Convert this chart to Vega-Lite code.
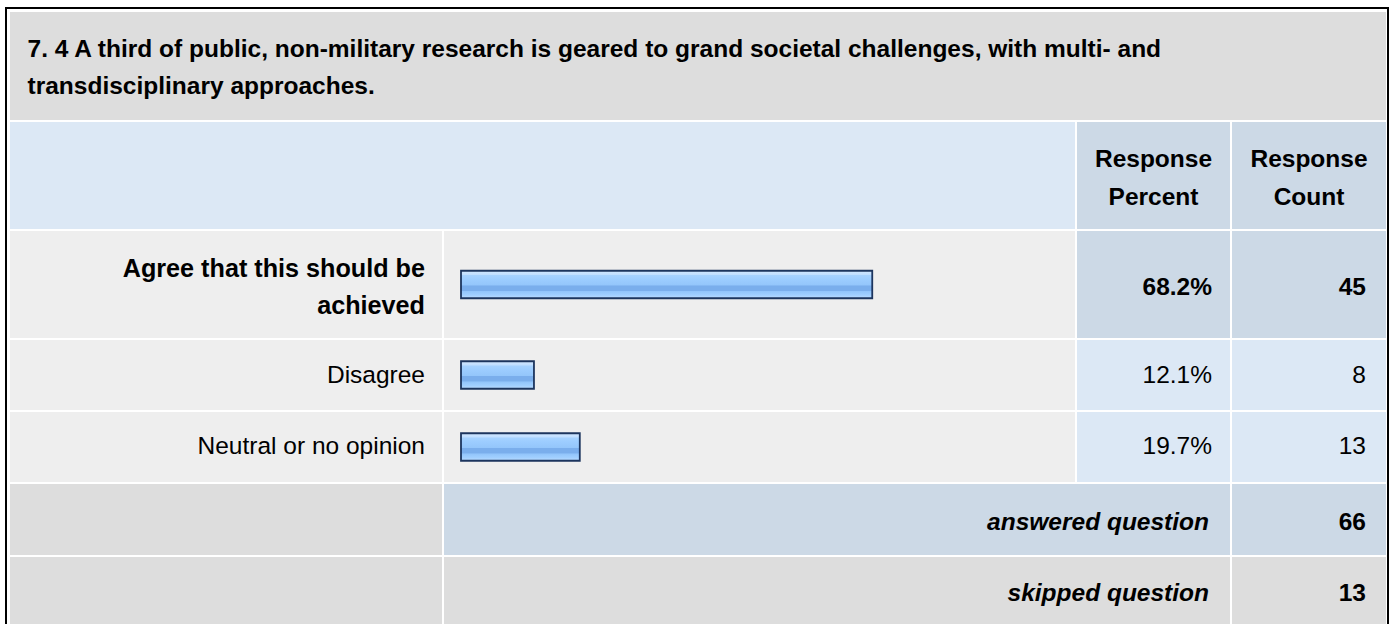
{
  "$schema": "https://vega.github.io/schema/vega-lite/v6.json",
  "background": "white",
  "padding": {"left": 5, "top": 7, "right": 5, "bottom": 0},
  "config": {
    "view": {"stroke": null},
    "text": {"font": "Liberation Sans", "fontSize": 24.5, "color": "#000000", "baseline": "middle"}
  },
  "datasets": {
    "question": [
      {"question": "7. 4 A third of public, non-military research is geared to grand societal challenges, with multi- and transdisciplinary approaches."}
    ],
    "columns": [
      {"key": "percent", "title": "Response Percent"},
      {"key": "count", "title": "Response Count"}
    ],
    "responses": [
      {"answer": "Agree that this should be achieved", "percent": 0.682, "count": 45},
      {"answer": "Disagree", "percent": 0.121, "count": 8},
      {"answer": "Neutral or no opinion", "percent": 0.197, "count": 13}
    ],
    "summary": [
      {"status": "answered question", "count": 66},
      {"status": "skipped question", "count": 13}
    ]
  },
  "data": {"name": "question"},
  "spacing": 0,
  "vconcat": [
    {"width": 1384, "height": 2, "view": {"fill": "#000000"}, "mark": {"type": "rect", "opacity": 0}, "encoding": {}},
    {
      "spacing": 0,
      "hconcat": [
        {"width": 2, "height": 615, "view": {"fill": "#000000"}, "mark": {"type": "rect", "opacity": 0}, "encoding": {}},
        {"width": 3, "height": 615, "mark": {"type": "rect", "opacity": 0}, "encoding": {}},
        {
          "spacing": 2,
          "vconcat": [
            {"width": 1376, "height": 1, "mark": {"type": "rect", "opacity": 0}, "encoding": {}},
            {
              "width": 1376, "height": 108, "view": {"fill": "#dddddd"},
              "data": {"name": "question"},
              "mark": {"type": "text", "align": "left", "fontWeight": "bold", "fontSize": 24.5, "lineHeight": 37, "dx": 17.5, "dy": -16, "lineBreak": {"expr": "regexp(' (?=transdisciplinary)')"}},
              "encoding": {"x": {"value": 0}, "text": {"field": "question"}}
            },
            {
              "bounds": "flush",
              "spacing": 2,
              "hconcat": [
                {"width": 1065, "height": 107, "view": {"fill": "#dce8f5"}, "mark": {"type": "rect", "opacity": 0}, "encoding": {}},
                {
                  "width": 153, "height": 107, "view": {"fill": "#ccd9e6"},
                  "data": {"name": "columns"},
                  "transform": [{"filter": {"field": "key", "equal": "percent"}}],
                  "mark": {"type": "text", "align": "center", "fontWeight": "bold", "lineHeight": 38, "dy": -16, "lineBreak": " "},
                  "encoding": {"text": {"field": "title"}}
                },
                {
                  "width": 154, "height": 107, "view": {"fill": "#ccd9e6"},
                  "data": {"name": "columns"},
                  "transform": [{"filter": {"field": "key", "equal": "count"}}],
                  "mark": {"type": "text", "align": "center", "fontWeight": "bold", "lineHeight": 38, "dy": -16, "lineBreak": " "},
                  "encoding": {"text": {"field": "title"}}
                }
              ]
            },
            {
              "bounds": "flush",
              "spacing": 2,
              "hconcat": [
                {
                  "width": 432, "height": 107, "view": {"fill": "#eeeeee"},
                  "data": {"name": "responses"},
                  "transform": [{"filter": {"field": "answer", "equal": "Agree that this should be achieved"}}],
                  "mark": {"type": "text", "align": "right", "fontWeight": "bold", "fontSize": 25.2, "lineHeight": 37, "dx": -17, "dy": -15.5, "lineBreak": {"expr": "regexp(' (?=achieved)')"}},
                  "encoding": {"x": {"value": "width"}, "text": {"field": "answer"}}
                },
                {
                  "width": 631, "height": 107, "view": {"fill": "#eeeeee"},
                  "data": {"name": "responses"},
                  "transform": [{"filter": {"field": "answer", "equal": "Agree that this should be achieved"}}],
                  "mark": {
                    "type": "bar", "height": 27.5, "stroke": "#1c355e", "strokeWidth": 1.8,
                    "fill": {"gradient": "linear", "x1": 0, "y1": 0, "x2": 0, "y2": 1, "stops": [
                      {"offset": 0, "color": "#d2e8ff"},
                      {"offset": 0.14, "color": "#c0deff"},
                      {"offset": 0.17, "color": "#a6d2ff"},
                      {"offset": 0.3, "color": "#9dcdff"},
                      {"offset": 0.52, "color": "#94c6fb"},
                      {"offset": 0.55, "color": "#7aaeec"},
                      {"offset": 0.72, "color": "#7aaeec"},
                      {"offset": 0.75, "color": "#92c5fb"},
                      {"offset": 0.88, "color": "#a0cfff"},
                      {"offset": 1, "color": "#bcdcff"}
                    ]}
                  },
                  "encoding": {"x": {"field": "percent", "type": "quantitative", "scale": {"domain": [0, 1], "range": [17, 620]}, "axis": null}}
                },
                {
                  "width": 153, "height": 107, "view": {"fill": "#ccd9e6"},
                  "data": {"name": "responses"},
                  "transform": [{"filter": {"field": "answer", "equal": "Agree that this should be achieved"}}],
                  "mark": {"type": "text", "align": "right", "fontWeight": "bold", "dx": -18, "dy": 3.5},
                  "encoding": {"x": {"value": "width"}, "text": {"field": "percent", "type": "quantitative", "format": ".1%"}}
                },
                {
                  "width": 154, "height": 107, "view": {"fill": "#ccd9e6"},
                  "data": {"name": "responses"},
                  "transform": [{"filter": {"field": "answer", "equal": "Agree that this should be achieved"}}],
                  "mark": {"type": "text", "align": "right", "fontWeight": "bold", "dx": -20, "dy": 3.5},
                  "encoding": {"x": {"value": "width"}, "text": {"field": "count", "type": "quantitative"}}
                }
              ]
            },
            {
              "bounds": "flush",
              "spacing": 2,
              "hconcat": [
                {
                  "width": 432, "height": 70, "view": {"fill": "#eeeeee"},
                  "data": {"name": "responses"},
                  "transform": [{"filter": {"field": "answer", "equal": "Disagree"}}],
                  "mark": {"type": "text", "align": "right", "dx": -17, "dy": 1},
                  "encoding": {"x": {"value": "width"}, "text": {"field": "answer"}}
                },
                {
                  "width": 631, "height": 70, "view": {"fill": "#eeeeee"},
                  "data": {"name": "responses"},
                  "transform": [{"filter": {"field": "answer", "equal": "Disagree"}}],
                  "mark": {
                    "type": "bar", "height": 27.5, "stroke": "#1c355e", "strokeWidth": 1.8,
                    "fill": {"gradient": "linear", "x1": 0, "y1": 0, "x2": 0, "y2": 1, "stops": [
                      {"offset": 0, "color": "#d2e8ff"},
                      {"offset": 0.14, "color": "#c0deff"},
                      {"offset": 0.17, "color": "#a6d2ff"},
                      {"offset": 0.3, "color": "#9dcdff"},
                      {"offset": 0.52, "color": "#94c6fb"},
                      {"offset": 0.55, "color": "#7aaeec"},
                      {"offset": 0.72, "color": "#7aaeec"},
                      {"offset": 0.75, "color": "#92c5fb"},
                      {"offset": 0.88, "color": "#a0cfff"},
                      {"offset": 1, "color": "#bcdcff"}
                    ]}
                  },
                  "encoding": {"x": {"field": "percent", "type": "quantitative", "scale": {"domain": [0, 1], "range": [17, 620]}, "axis": null}}
                },
                {
                  "width": 153, "height": 70, "view": {"fill": "#dce8f5"},
                  "data": {"name": "responses"},
                  "transform": [{"filter": {"field": "answer", "equal": "Disagree"}}],
                  "mark": {"type": "text", "align": "right", "dx": -18, "dy": 1},
                  "encoding": {"x": {"value": "width"}, "text": {"field": "percent", "type": "quantitative", "format": ".1%"}}
                },
                {
                  "width": 154, "height": 70, "view": {"fill": "#dce8f5"},
                  "data": {"name": "responses"},
                  "transform": [{"filter": {"field": "answer", "equal": "Disagree"}}],
                  "mark": {"type": "text", "align": "right", "dx": -20, "dy": 1},
                  "encoding": {"x": {"value": "width"}, "text": {"field": "count", "type": "quantitative"}}
                }
              ]
            },
            {
              "bounds": "flush",
              "spacing": 2,
              "hconcat": [
                {
                  "width": 432, "height": 70, "view": {"fill": "#eeeeee"},
                  "data": {"name": "responses"},
                  "transform": [{"filter": {"field": "answer", "equal": "Neutral or no opinion"}}],
                  "mark": {"type": "text", "align": "right", "dx": -17, "dy": 0},
                  "encoding": {"x": {"value": "width"}, "text": {"field": "answer"}}
                },
                {
                  "width": 631, "height": 70, "view": {"fill": "#eeeeee"},
                  "data": {"name": "responses"},
                  "transform": [{"filter": {"field": "answer", "equal": "Neutral or no opinion"}}],
                  "mark": {
                    "type": "bar", "height": 27.5, "stroke": "#1c355e", "strokeWidth": 1.8,
                    "fill": {"gradient": "linear", "x1": 0, "y1": 0, "x2": 0, "y2": 1, "stops": [
                      {"offset": 0, "color": "#d2e8ff"},
                      {"offset": 0.14, "color": "#c0deff"},
                      {"offset": 0.17, "color": "#a6d2ff"},
                      {"offset": 0.3, "color": "#9dcdff"},
                      {"offset": 0.52, "color": "#94c6fb"},
                      {"offset": 0.55, "color": "#7aaeec"},
                      {"offset": 0.72, "color": "#7aaeec"},
                      {"offset": 0.75, "color": "#92c5fb"},
                      {"offset": 0.88, "color": "#a0cfff"},
                      {"offset": 1, "color": "#bcdcff"}
                    ]}
                  },
                  "encoding": {"x": {"field": "percent", "type": "quantitative", "scale": {"domain": [0, 1], "range": [17, 620]}, "axis": null}}
                },
                {
                  "width": 153, "height": 70, "view": {"fill": "#dce8f5"},
                  "data": {"name": "responses"},
                  "transform": [{"filter": {"field": "answer", "equal": "Neutral or no opinion"}}],
                  "mark": {"type": "text", "align": "right", "dx": -18, "dy": 0},
                  "encoding": {"x": {"value": "width"}, "text": {"field": "percent", "type": "quantitative", "format": ".1%"}}
                },
                {
                  "width": 154, "height": 70, "view": {"fill": "#dce8f5"},
                  "data": {"name": "responses"},
                  "transform": [{"filter": {"field": "answer", "equal": "Neutral or no opinion"}}],
                  "mark": {"type": "text", "align": "right", "dx": -20, "dy": 0},
                  "encoding": {"x": {"value": "width"}, "text": {"field": "count", "type": "quantitative"}}
                }
              ]
            },
            {
              "bounds": "flush",
              "spacing": 2,
              "hconcat": [
                {"width": 432, "height": 71, "view": {"fill": "#dddddd"}, "mark": {"type": "rect", "opacity": 0}, "encoding": {}},
                {
                  "width": 786, "height": 71, "view": {"fill": "#ccd9e6"},
                  "data": {"name": "summary"},
                  "transform": [{"filter": {"field": "status", "equal": "answered question"}}],
                  "mark": {"type": "text", "align": "right", "fontWeight": "bold", "fontStyle": "italic", "dx": -21, "dy": 3.5},
                  "encoding": {"x": {"value": "width"}, "text": {"field": "status"}}
                },
                {
                  "width": 154, "height": 71, "view": {"fill": "#ccd9e6"},
                  "data": {"name": "summary"},
                  "transform": [{"filter": {"field": "status", "equal": "answered question"}}],
                  "mark": {"type": "text", "align": "right", "fontWeight": "bold", "dx": -20, "dy": 3.5},
                  "encoding": {"x": {"value": "width"}, "text": {"field": "count", "type": "quantitative"}}
                }
              ]
            },
            {
              "bounds": "flush",
              "spacing": 2,
              "hconcat": [
                {"width": 432, "height": 67, "view": {"fill": "#dddddd"}, "mark": {"type": "rect", "opacity": 0}, "encoding": {}},
                {
                  "width": 786, "height": 67, "view": {"fill": "#dddddd"},
                  "data": {"name": "summary"},
                  "transform": [{"filter": {"field": "status", "equal": "skipped question"}}],
                  "mark": {"type": "text", "align": "right", "fontWeight": "bold", "fontStyle": "italic", "dx": -21, "dy": 3},
                  "encoding": {"x": {"value": "width"}, "text": {"field": "status"}}
                },
                {
                  "width": 154, "height": 67, "view": {"fill": "#dddddd"},
                  "data": {"name": "summary"},
                  "transform": [{"filter": {"field": "status", "equal": "skipped question"}}],
                  "mark": {"type": "text", "align": "right", "fontWeight": "bold", "dx": -20, "dy": 3},
                  "encoding": {"x": {"value": "width"}, "text": {"field": "count", "type": "quantitative"}}
                }
              ]
            }
          ]
        },
        {"width": 1, "height": 615, "mark": {"type": "rect", "opacity": 0}, "encoding": {}},
        {"width": 2, "height": 615, "view": {"fill": "#000000"}, "mark": {"type": "rect", "opacity": 0}, "encoding": {}}
      ]
    }
  ]
}
